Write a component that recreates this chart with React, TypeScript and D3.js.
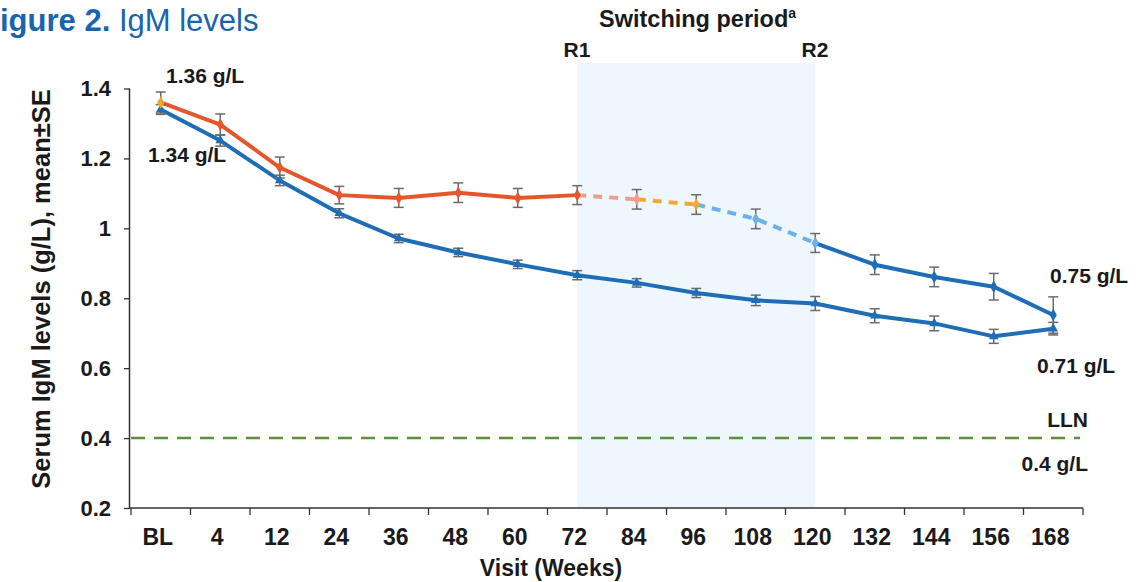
import React, { useEffect, useRef } from 'react';
import * as d3 from 'd3';

const weeks = ['BL', '4', '12', '24', '36', '48', '60', '72', '84', '96', '108', '120', '132', '144', '156', '168'];
const upperMean = [1.36, 1.297, 1.174, 1.095, 1.087, 1.102, 1.087, 1.095, 1.083, 1.068, 1.027, 0.958, 0.896, 0.861, 0.833, 0.752];
const upperSE = [0.03, 0.03, 0.03, 0.025, 0.027, 0.028, 0.027, 0.027, 0.028, 0.028, 0.028, 0.027, 0.028, 0.028, 0.038, 0.052];
const lowerMean = [1.34, 1.251, 1.137, 1.043, 0.971, 0.931, 0.897, 0.866, 0.844, 0.815, 0.794, 0.785, 0.75, 0.728, 0.691, 0.713];
const lowerSE = [0.014, 0.016, 0.015, 0.013, 0.012, 0.012, 0.012, 0.013, 0.012, 0.013, 0.015, 0.02, 0.02, 0.021, 0.02, 0.018];
const yTicks = [0.2, 0.4, 0.6, 0.8, 1.0, 1.2, 1.4];
const lln = 0.4;
const switchStart = '72';
const switchEnd = '120';

// segment styling of the upper (switching) group
const upperSegments = [
  { from: 0, to: 7, color: '#e2572b', dash: null },
  { from: 7, to: 8, color: '#ef9e8d', dash: '9,7' },
  { from: 8, to: 9, color: '#f0aa33', dash: '9,7' },
  { from: 9, to: 11, color: '#6db1e8', dash: '9,7' },
  { from: 11, to: 15, color: '#1f6db6', dash: null },
];
const upperMarkerColor = (i: number) =>
  i === 0 ? '#f5a623' : i <= 7 ? '#e2572b' : i === 8 ? '#ef9e8d' : i === 9 ? '#f0aa33' : i <= 11 ? '#6db1e8' : '#1f6db6';

const FONT = '"Liberation Sans", Arial, sans-serif';

export default function App() {
  const ref = useRef<SVGSVGElement>(null);

  useEffect(() => {
    const svg = d3.select(ref.current);
    svg.selectAll('*').remove();

    const x = d3.scaleBand().domain(weeks).range([131, 1083]);
    const y = d3.scaleLinear().domain([0.2, 1.4]).range([508, 88.5]);
    const cx = (w: string) => (x(w) as number) + x.bandwidth() / 2;

    // switching period shading
    svg.append('rect')
      .attr('x', cx(switchStart))
      .attr('y', 63)
      .attr('width', cx(switchEnd) - cx(switchStart))
      .attr('height', 508 - 63)
      .attr('fill', '#eef6fe');

    // LLN
    svg.append('line')
      .attr('x1', 131).attr('x2', 1080)
      .attr('y1', y(lln)).attr('y2', y(lln))
      .attr('stroke', '#5a9139').attr('stroke-width', 2.5)
      .attr('stroke-dasharray', '14,9');

    // y axis
    const yAxis = svg.append('g')
      .attr('transform', 'translate(130,0)')
      .call(d3.axisLeft(y).tickValues(yTicks).tickSize(6).tickPadding(13)
        .tickFormat((d) => String(+(+d).toFixed(1))));
    yAxis.select('.domain').attr('d', `M-0.5,${y(1.4)}V508`);
    yAxis.selectAll('line').attr('stroke', '#333').attr('stroke-width', 1.3);
    yAxis.select('.domain').attr('stroke', '#333').attr('stroke-width', 1.5);
    yAxis.selectAll('text').attr('font-family', FONT).attr('font-size', 22)
      .attr('font-weight', 'bold').attr('fill', '#1a1a1a');

    // x axis
    const xg = svg.append('g');
    xg.append('line').attr('x1', 129.5).attr('x2', 1083).attr('y1', 508).attr('y2', 508)
      .attr('stroke', '#333').attr('stroke-width', 1.5);
    xg.selectAll('.tk').data(d3.range(weeks.length + 1)).enter().append('line')
      .attr('x1', (i) => 131 + i * x.bandwidth()).attr('x2', (i) => 131 + i * x.bandwidth())
      .attr('y1', 508).attr('y2', 515).attr('stroke', '#333').attr('stroke-width', 1.3);
    xg.selectAll('.lb').data(weeks).enter().append('text')
      .attr('x', (w) => cx(w) - 3).attr('y', 545)
      .attr('text-anchor', 'middle')
      .attr('font-family', FONT).attr('font-size', 23).attr('font-weight', 'bold')
      .attr('fill', '#1a1a1a').text((w) => w);

    // lower series
    const lowerPts = weeks.map((w, i) => [cx(w), y(lowerMean[i])] as [number, number]);
    svg.append('path').attr('d', d3.line()(lowerPts)).attr('fill', 'none')
      .attr('stroke', '#1f6db6').attr('stroke-width', 4).attr('stroke-linejoin', 'round');

    // upper series segments
    const upperPts = weeks.map((w, i) => [cx(w), y(upperMean[i])] as [number, number]);
    upperSegments.forEach((s) => {
      svg.append('path').attr('d', d3.line()(upperPts.slice(s.from, s.to + 1)))
        .attr('fill', 'none').attr('stroke', s.color).attr('stroke-width', 4)
        .attr('stroke-linejoin', 'round')
        .attr('stroke-dasharray', s.dash);
    });

    // error bars
    const errorBars = (mean: number[], se: number[]) => {
      weeks.forEach((w, i) => {
        const g = svg.append('g').attr('stroke', '#6b6b6b').attr('stroke-width', 1.5);
        const xx = cx(w);
        g.append('line').attr('x1', xx).attr('x2', xx).attr('y1', y(mean[i] + se[i])).attr('y2', y(mean[i] - se[i]));
        g.append('line').attr('x1', xx - 5).attr('x2', xx + 5).attr('y1', y(mean[i] + se[i])).attr('y2', y(mean[i] + se[i]));
        g.append('line').attr('x1', xx - 5).attr('x2', xx + 5).attr('y1', y(mean[i] - se[i])).attr('y2', y(mean[i] - se[i]));
      });
    };
    errorBars(lowerMean, lowerSE);
    errorBars(upperMean, upperSE);

    // markers
    svg.selectAll('.ml').data(lowerPts).enter().append('path')
      .attr('d', d3.symbol().type(d3.symbolTriangle).size(40)())
      .attr('transform', (p) => `translate(${p[0]},${p[1]})`).attr('fill', '#1f6db6');
    svg.selectAll('.mu').data(upperPts).enter().append('path')
      .attr('d', d3.symbol().type(d3.symbolDiamond).size(45)())
      .attr('transform', (p) => `translate(${p[0]},${p[1]})`)
      .attr('fill', (_, i) => upperMarkerColor(i));

    // text annotations
    const txt = (t: string, xx: number, yy: number, size: number, anchor = 'start') =>
      svg.append('text').attr('x', xx).attr('y', yy).attr('font-family', FONT)
        .attr('font-size', size).attr('font-weight', 'bold').attr('fill', '#1a1a1a')
        .attr('text-anchor', anchor).text(t);

    txt('1.36 g/L', 166, 83, 21);
    txt('1.34 g/L', 148, 162, 21);
    txt('0.75 g/L', 1050, 283, 21);
    txt('0.71 g/L', 1037, 373, 21);
    txt('LLN', 1088, 427, 21, 'end');
    txt('0.4 g/L', 1088, 471, 21, 'end');
    txt('R1', 577, 57, 21, 'middle');
    txt('R2', 815, 57, 21, 'middle');
    const sp = txt('Switching period', 599, 27, 23.5);
    sp.append('tspan').attr('font-size', 14).attr('dy', -9).text('a');
    txt('Visit (Weeks)', 551, 576, 23, 'middle');
    svg.append('text')
      .attr('transform', `translate(50,${(88 + 490) / 2}) rotate(-90)`)
      .attr('text-anchor', 'middle').attr('font-family', FONT)
      .attr('font-size', 25.5).attr('font-weight', 'bold').attr('fill', '#1a1a1a')
      .text('Serum IgM levels (g/L), mean±SE');

    // figure caption, as shown (its first letter is outside the picture)
    const cap = svg.append('text').attr('x', 0).attr('y', 31)
      .attr('font-family', FONT).attr('font-size', 31).attr('fill', '#1a64ae');
    cap.append('tspan').attr('font-weight', 'bold').text('igure 2. ');
    cap.append('tspan').text('IgM levels');
  }, []);

  return (
    <svg ref={ref} width={1148} height={582}
      style={{ position: 'absolute', left: 0, top: 0, background: '#fff' }} />
  );
}
